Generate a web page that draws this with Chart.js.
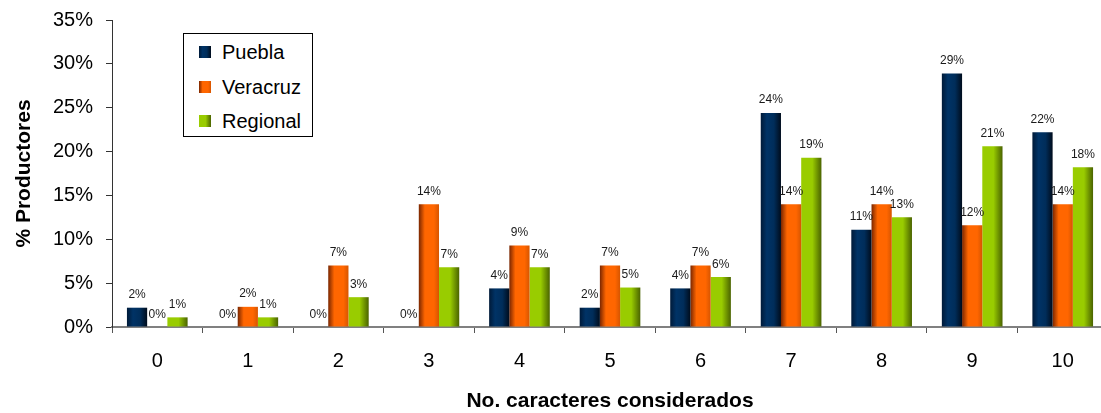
<!DOCTYPE html>
<html>
<head>
<meta charset="utf-8">
<script src="https://cdn.jsdelivr.net/npm/chart.js@4.4.1/dist/chart.umd.min.js"></script>
<style>
  html, body { margin: 0; padding: 0; background: #fff; overflow: hidden; }
  #wrap { position: relative; width: 1108px; height: 413px; }
  #legend { position: absolute; left: 183px; top: 33px; width: 128px; height: 102px;
            border: 1px solid #000; background: #fff; font-family: "Liberation Sans", Arial, sans-serif;
            font-size: 20px; color: #000; }
  .item { position: absolute; left: 15px; height: 24px; line-height: 24px; }
  .sw { position: absolute; left: 0; top: 6px; width: 12px; height: 12px; }
  .lbl { position: absolute; left: 23px; top: 0; white-space: nowrap; }
</style>
</head>
<body>
<div id="wrap">
  <canvas id="c" width="1108" height="413"></canvas>
  <div id="legend"></div>
</div>
<script>
// ---- data ----
const categories = ["0","1","2","3","4","5","6","7","8","9","10"];
const seriesNames = ["Puebla","Veracruz","Regional"];
const puebla   = [2.2, 0, 0, 0, 4.4, 2.2, 4.4, 24.4, 11.1, 28.9, 22.2];
const veracruz = [0, 2.3, 7.0, 14.0, 9.3, 7.0, 7.0, 14.0, 14.0, 11.6, 14.0];
const regional = [1.1, 1.1, 3.4, 6.8, 6.8, 4.5, 5.7, 19.3, 12.5, 20.6, 18.2];
const yTicks   = [0, 5, 10, 15, 20, 25, 30, 35];

// ---- styles ----
const FONT = '"Liberation Sans", Arial, sans-serif';
const CAT_PCT = 0.67;
const gradStops = [
  [[0, '#001a38'], [0.3, '#003366'], [0.65, '#002d5a'], [1, '#000c1c']],
  [[0, '#7a2600'], [0.3, '#ff6600'], [0.75, '#ff6600'], [1, '#d65500']],
  [[0, '#99cc00'], [0.55, '#99cc00'], [1, '#4a6300']]
];
const solids = ['#002b57', '#ff6600', '#99cc00'];

function gradFill(i) {
  return (c) => {
    const ch = c.chart, xs = ch.scales && ch.scales.x;
    if (!xs || c.dataIndex === undefined || !ch.chartArea) return solids[i];
    const cw = (xs.right - xs.left) / categories.length;
    const bw = cw * CAT_PCT / 3;
    const cx = xs.getPixelForValue(c.dataIndex) + (c.datasetIndex - 1) * bw;
    const g = ch.ctx.createLinearGradient(cx - bw / 2, 0, cx + bw / 2, 0);
    gradStops[i].forEach(([o, col]) => g.addColorStop(o, col));
    return g;
  };
}

const valueLabels = {
  id: 'valueLabels',
  afterDatasetsDraw(chart) {
    const ctx = chart.ctx;
    ctx.save();
    ctx.font = '12px ' + FONT;
    ctx.fillStyle = '#1a1a1a';
    ctx.textAlign = 'center';
    ctx.textBaseline = 'alphabetic';
    chart.data.datasets.forEach((ds, di) => {
      chart.getDatasetMeta(di).data.forEach((el, i) => {
        ctx.fillText(Math.round(ds.data[i]) + '%', el.x, el.y - 9.5);
      });
    });
    ctx.restore();
  }
};

const seriesData = [puebla, veracruz, regional];
new Chart(document.getElementById('c'), {
  type: 'bar',
  data: {
    labels: categories,
    datasets: seriesNames.map((n, i) => ({
      label: n,
      data: seriesData[i],
      backgroundColor: gradFill(i),
      borderWidth: 0,
      categoryPercentage: CAT_PCT,
      barPercentage: 1.0
    }))
  },
  options: {
    responsive: false,
    animation: false,
    devicePixelRatio: 1,
    events: [],
    layout: { autoPadding: false, padding: { top: 20, left: 0, right: 0, bottom: 0 } },
    plugins: { legend: { display: false }, tooltip: { enabled: false } },
    scales: {
      x: {
        type: 'category',
        grid: { display: true, drawOnChartArea: false, drawTicks: true, tickLength: 6, offset: true, color: '#555', lineWidth: 1 },
        border: { display: true, color: '#808080', width: 2 },
        ticks: { color: '#000', font: { family: FONT, size: 20 }, padding: 16, maxRotation: 0, autoSkip: false },
        title: { display: true, text: 'No. caracteres considerados', color: '#000',
                 font: { family: FONT, size: 21, weight: 'bold', lineHeight: 1.1 }, padding: { top: 0, bottom: 0 } },
        afterFit(s) { s.height = 86; s.paddingLeft = 0; s.paddingRight = 0; }
      },
      y: {
        min: 0, max: 35,
        afterBuildTicks(s) { s.ticks = yTicks.map(v => ({ value: v })); },
        grid: { display: true, drawOnChartArea: false, drawTicks: true, tickLength: 6, color: '#333', lineWidth: 1 },
        border: { display: true, color: '#333', width: 1 },
        ticks: { color: '#000', font: { family: FONT, size: 20 }, padding: 13, callback: v => v + '%' },
        title: { display: true, text: '% Productores', color: '#000',
                 font: { family: FONT, size: 21, weight: 'bold', lineHeight: 1.2 }, padding: { top: 12, bottom: 0 } },
        afterFit(s) { s.width = 112; s.paddingTop = 0; s.paddingBottom = 0; }
      }
    }
  },
  plugins: [valueLabels]
});

// ---- HTML legend ----
const legend = document.getElementById('legend');
const swGrad = [
  'linear-gradient(to right, #001a38, #003366 30%, #002d5a 65%, #000c1c)',
  'linear-gradient(to right, #7a2600, #ff6600 30%, #ff6600 75%, #d65500)',
  'linear-gradient(to right, #99cc00, #99cc00 55%, #4a6300)'
];
seriesNames.forEach((n, i) => {
  const it = document.createElement('div');
  it.className = 'item';
  it.style.top = (6 + i * 34.7) + 'px';
  const sw = document.createElement('div');
  sw.className = 'sw';
  sw.style.background = swGrad[i];
  const lb = document.createElement('div');
  lb.className = 'lbl';
  lb.textContent = n;
  it.appendChild(sw); it.appendChild(lb);
  legend.appendChild(it);
});
</script>
</body>
</html>
